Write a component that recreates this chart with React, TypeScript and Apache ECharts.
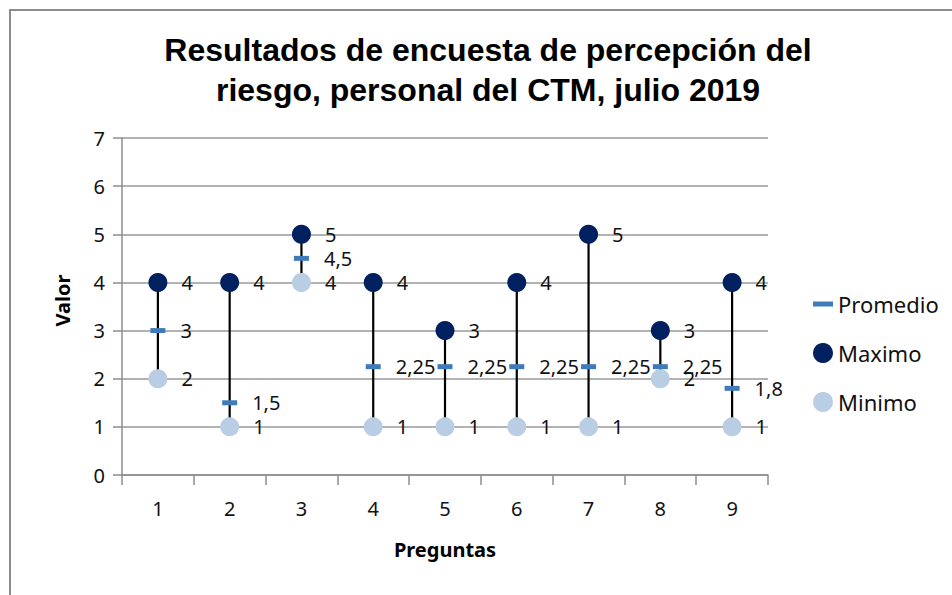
import React, { useEffect, useRef } from "react";
import * as echarts from "echarts";

const categories = ["1", "2", "3", "4", "5", "6", "7", "8", "9"];
const maximo = [4, 4, 5, 4, 3, 4, 5, 3, 4];
const minimo = [2, 1, 4, 1, 1, 1, 1, 2, 1];
const promedio = [3, 1.5, 4.5, 2.25, 2.25, 2.25, 2.25, 2.25, 1.8];
const titleLines = ["Resultados de encuesta de percepción del", "riesgo, personal del CTM, julio 2019"];

const fmt = (v: number) => String(v).replace(".", ",");
const FONT = "'Noto Sans', 'Open Sans', sans-serif";

export default function App() {
  const ref = useRef<HTMLDivElement>(null);
  useEffect(() => {
    document.body.style.margin = "0";
    if (!ref.current) return;
    const chart = echarts.init(ref.current, null, { renderer: "svg" });
    const labelStyle = {
      show: true,
      position: "right" as const,
      fontSize: 20,
      lineHeight: 17,
      fontFamily: FONT,
      color: "#111",
      formatter: (p: any) => fmt(Array.isArray(p.value) ? p.value[1] : p.value),
    };
    chart.setOption({
      animation: false,
      backgroundColor: "#fff",
      title: {
        text: titleLines.join("\n"),
        left: 483,
        textAlign: "center",
        top: 25,
        textStyle: {
          fontFamily: "'Liberation Sans', Arial, sans-serif",
          fontWeight: "bold",
          fontSize: 32,
          lineHeight: 40,
          color: "#000",
        },
      },
      graphic: [
        { type: "line", shape: { x1: 9, y1: 10, x2: 952, y2: 10 }, style: { stroke: "#8c8c8c", lineWidth: 2 } },
        { type: "line", shape: { x1: 10, y1: 9, x2: 10, y2: 595 }, style: { stroke: "#8c8c8c", lineWidth: 2 } },
      ],
      legend: {
        orient: "vertical",
        left: 808,
        top: 288,
        itemGap: 27,
        itemWidth: 20,
        itemHeight: 20,
        itemTextGap: 3,
        textStyle: { fontSize: 22, fontFamily: FONT, color: "#111" },
        data: [
          { name: "Promedio", icon: "path://M0,0 L16,0 L16,4 L0,4 Z" },
          { name: "Maximo", icon: "circle" },
          { name: "Minimo", icon: "circle" },
        ],
      },
      grid: { left: 122, right: 184, top: 138, bottom: 120 },
      xAxis: {
        type: "category",
        data: categories,
        boundaryGap: true,
        name: "Preguntas",
        nameLocation: "middle",
        nameGap: 64,
        nameTextStyle: { fontSize: 20, fontWeight: "bold", fontFamily: FONT, color: "#000" },
        axisLine: { lineStyle: { color: "#8c8c8c", width: 1.5 } },
        axisTick: { show: true, length: 10, lineStyle: { color: "#8c8c8c", width: 1.5 } },
        axisLabel: { fontSize: 20, fontFamily: FONT, color: "#111", margin: 23 },
      },
      yAxis: {
        type: "value",
        min: 0,
        max: 7,
        interval: 1,
        name: "Valor",
        nameLocation: "middle",
        nameGap: 50,
        nameTextStyle: { fontSize: 20, fontWeight: "bold", fontFamily: FONT, color: "#000", padding: [0, 0, 0, 12] },
        axisLine: { show: true, lineStyle: { color: "#8c8c8c", width: 1.5 } },
        axisTick: { show: true, length: 9, lineStyle: { color: "#8c8c8c", width: 1.5 } },
        axisLabel: { fontSize: 20, fontFamily: FONT, color: "#111", margin: 17 },
        splitLine: { lineStyle: { color: "#999", width: 1.5 } },
      },
      series: [
        {
          type: "custom",
          name: "hl",
          silent: true,
          z: 1,
          data: categories.map((_, i) => [i, minimo[i], maximo[i]]),
          renderItem: (params: any, api: any) => {
            const p1 = api.coord([api.value(0), api.value(1)]);
            const p2 = api.coord([api.value(0), api.value(2)]);
            return {
              type: "line",
              shape: { x1: p1[0], y1: p1[1], x2: p2[0], y2: p2[1] },
              style: { stroke: "#000", lineWidth: 2.2 },
            };
          },
        },
        {
          type: "scatter",
          name: "Promedio",
          z: 3,
          data: promedio,
          symbol: "rect",
          symbolSize: [15, 5],
          itemStyle: { color: "#3f7ab9", opacity: 1 },
          label: { ...labelStyle, distance: 15 },
        },
        {
          type: "scatter",
          name: "Maximo",
          z: 4,
          data: maximo,
          symbol: "circle",
          symbolSize: 19,
          itemStyle: { color: "#002060", opacity: 1 },
          label: { ...labelStyle, distance: 14 },
        },
        {
          type: "scatter",
          name: "Minimo",
          z: 4,
          data: minimo,
          symbol: "circle",
          symbolSize: 19,
          itemStyle: { color: "#b9cde5", opacity: 1 },
          label: { ...labelStyle, distance: 14 },
        },
      ],
    });
    return () => chart.dispose();
  }, []);
  return <div ref={ref} style={{ width: 952, height: 595, position: "absolute", left: 0, top: 0 }} />;
}
